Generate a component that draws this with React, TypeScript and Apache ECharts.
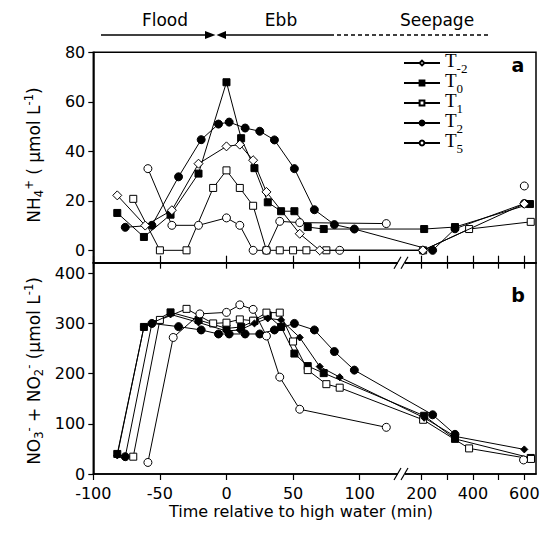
import React, { useEffect, useRef } from 'react';
import * as echarts from 'echarts';

// ---------- Data (time in minutes relative to high water) ----------
const SERIES_NAMES = ['T-2', 'T0', 'T1', 'T2', 'T5'];

// Panel a: NH4+ (umol L-1)
const tm2A_t = [-82, -61, -41, -21, 0, 10, 20, 30, 55, 70, 205, 600];
const tm2A_v = [22.2, 10, 16.2, 35, 42, 42.7, 36.4, 23.6, 6.7, 0, 0, 18.8];
const t0A_t = [-82, -62, -42, -21, 0, 11, 21, 31, 41, 51, 61, 73, 210, 330, 622];
const t0A_v = [15.1, 5.4, 14.4, 31, 67.9, 45.3, 33.2, 19.4, 15.8, 15.8, 9.4, 8.6, 8.6, 9.4, 18.7];
const t1A_t = [-70, -50, -30, -10, 0, 10, 20, 30, 40, 50, 60, 75, 206, 385, 625];
const t1A_v = [20.8, 0, 0, 25.2, 32.3, 25.2, 18, 0, 0, 0, 0, 0, 0, 8.6, 11.5];
const t2A_t = [-76, -56, -36, -19, -6, 2, 14, 25, 36, 51, 66, 81, 96, 243, 330, 600];
const t2A_v = [9.3, 10.1, 29.7, 44.7, 51, 51.8, 49.4, 48.1, 44.6, 33, 16.4, 10.4, 8.6, 0, 8.7, 18.9];
const t5A_t = [-59, -41, -21, 0, 10, 20, 30, 40, 55, 120];
const t5A_v = [33, 10.1, 10.1, 13.1, 10.1, 0, 0, 11.7, 11.2, 10.8];
const t5A2_t = [85, 205];
const t5A2_v = [0, 0];
const t5A3_t = [600];
const t5A3_v = [26];

// Panel b: NO3- + NO2- (umol L-1)
const tm2B_t = [-82, -62, -42, -21, 0, 10, 21, 31, 41, 55, 70, 85, 210, 330, 600];
const tm2B_v = [37, 293, 318, 302, 285, 287, 300, 310, 307, 272, 214, 193, 112, 75, 49];
const t0B_t = [-82, -62, -42, -21, 0, 11, 21, 31, 41, 51, 61, 73, 210, 330, 625];
const t0B_v = [40, 293, 322, 307, 290, 293, 305, 316, 293, 240, 215, 201, 116, 70, 32];
const t1B_t = [-70, -50, -30, -10, 0, 10, 20, 30, 40, 50, 61, 75, 85, 206, 385, 626];
const t1B_v = [34.5, 307, 329, 300, 301.5, 308, 305.5, 321.5, 321.5, 264, 207, 179, 172, 108, 51, 30];
const t2B_t = [-76, -56, -36, -19, -6, 2, 14, 25, 36, 51, 66, 81, 96, 243, 330];
const t2B_v = [34.5, 300, 293.6, 287, 279, 279, 279, 279, 287, 300, 287, 244, 207, 118, 79];
const t5B_t = [-59, -40, -20, 0, 10, 20, 30, 40, 55, 120];
const t5B_v = [23, 272, 319, 322, 337, 328, 275, 193, 129, 93];
const t5B2_t = [597];
const t5B2_v = [28];

// Axis ticks (real minutes)
const xTickMinutes = [-100, -50, 0, 50, 100, 200, 300, 400, 500, 600];
const xLabelMinutes = [-100, -50, 0, 50, 100, 200, 400, 600];
const yTicksA = [0, 20, 40, 60, 80];
const yTicksB = [0, 100, 200, 300, 400];

// ---------- Broken time axis ----------
const BREAK_START = 140;
const SEG2_ORIGIN = 146.5;
const SEG2_SCALE = 0.1928;
const toAxis = (t: number) => (t <= BREAK_START ? t : SEG2_ORIGIN + (t - 200) * SEG2_SCALE);
const fromAxis = (v: number) => (v <= BREAK_START ? v : 200 + (v - SEG2_ORIGIN) / SEG2_SCALE);

const pairs = (ts: number[], vs: number[]) => ts.map((t, i) => [toAxis(t), vs[i]]);

const FONT = 'DejaVu Sans';
const SERIF = 'Liberation Serif';

const GRID_LEFT = 93.3;
const GRID_W = 442.7;

function mkSeries(
  name: string,
  data: number[][],
  panel: 0 | 1,
  symbol: string,
  size: number,
  filled: boolean,
  z = 2
) {
  return {
    type: 'line',
    name,
    xAxisIndex: panel === 0 ? 0 : 2,
    yAxisIndex: panel,
    data,
    symbol,
    symbolSize: size,
    showAllSymbol: true,
    lineStyle: { color: '#000', width: 1 },
    itemStyle: { color: filled ? '#000' : '#fff', borderColor: '#000', borderWidth: 1 },
    emphasis: { disabled: true },
    silent: true,
    z,
  };
}

const subOf: Record<string, string> = { 'T-2': '-2', T0: '0', T1: '1', T2: '2', T5: '5' };

function buildOption() {
  const xTickVals = xTickMinutes.map(toAxis);
  const xLabelVals = xLabelMinutes.map(toAxis);
  const axisLineStyle = { show: true, onZero: false, lineStyle: { color: '#000', width: 1.5 } };
  const baseX = {
    type: 'value',
    min: -100,
    max: 232.4,
    axisLine: axisLineStyle,
    splitLine: { show: false },
  };
  const axisText = { color: '#000', fontFamily: FONT, fontSize: 16 };
  const titleRich = {
    n: { fontFamily: FONT, fontSize: 17, lineHeight: 22, color: '#000' },
    sub: { fontFamily: FONT, fontSize: 11.5, lineHeight: 22, verticalAlign: 'bottom', color: '#000' },
    sup: { fontFamily: FONT, fontSize: 11.5, lineHeight: 22, verticalAlign: 'top', color: '#000' },
  };

  const breakMark = (y: number) => [
    { type: 'rect', shape: { x: 398, y: y - 5, width: 7, height: 10 }, style: { fill: '#fff' }, z: 50 },
    { type: 'line', shape: { x1: 394, y1: y + 6, x2: 401, y2: y - 6 }, style: { stroke: '#000', lineWidth: 1.2 }, z: 51 },
    { type: 'line', shape: { x1: 401, y1: y + 6, x2: 408, y2: y - 6 }, style: { stroke: '#000', lineWidth: 1.2 }, z: 51 },
  ];

  return {
    animation: false,
    backgroundColor: '#fff',
    grid: [
      { left: GRID_LEFT, top: 52.3, width: GRID_W, height: 210.4, show: true, borderColor: '#000', borderWidth: 1.5 },
      { left: GRID_LEFT, top: 262.7, width: GRID_W, height: 211.3, show: true, borderColor: '#000', borderWidth: 1.5 },
    ],
    xAxis: [
      {
        ...baseX,
        gridIndex: 0,
        axisTick: { show: true, inside: true, length: 7, customValues: xTickVals, lineStyle: { color: '#000', width: 1.2 } },
        axisLabel: { show: false },
      },
      {
        ...baseX,
        gridIndex: 1,
        position: 'top',
        axisTick: { show: true, inside: true, length: 6, customValues: xTickVals, lineStyle: { color: '#000', width: 1.2 } },
        axisLabel: { show: false },
      },
      {
        ...baseX,
        gridIndex: 1,
        position: 'bottom',
        axisTick: { show: true, inside: false, length: 6, customValues: xTickVals, lineStyle: { color: '#000', width: 1.2 } },
        axisLabel: {
          ...axisText,
          margin: 11,
          customValues: xLabelVals,
          formatter: (v: number) => String(Math.round(fromAxis(v))),
        },
      },
    ],
    yAxis: [
      {
        type: 'value',
        gridIndex: 0,
        min: -5,
        max: 80,
        axisLine: axisLineStyle,
        axisTick: { show: true, length: 5, customValues: yTicksA, lineStyle: { color: '#000', width: 1.2 } },
        axisLabel: { ...axisText, margin: 8, customValues: yTicksA },
        splitLine: { show: false },
      },
      {
        type: 'value',
        gridIndex: 1,
        min: 0,
        max: 421,
        axisLine: axisLineStyle,
        axisTick: { show: true, length: 5, customValues: yTicksB, lineStyle: { color: '#000', width: 1.2 } },
        axisLabel: { ...axisText, margin: 8, customValues: yTicksB },
        splitLine: { show: false },
      },
    ],
    legend: {
      show: true,
      data: SERIES_NAMES,
      orient: 'vertical',
      left: 403,
      top: 51,
      itemWidth: 36,
      itemHeight: 6,
      itemGap: -4,
      padding: 0,
      selectedMode: false,
      formatter: (name: string) => `{t|T}{s|${subOf[name]}}`,
      textStyle: {
        color: '#000',
        rich: {
          t: { fontFamily: SERIF, fontSize: 19, lineHeight: 20, verticalAlign: 'top', color: '#000' },
          s: { fontFamily: SERIF, fontSize: 13, lineHeight: 24, verticalAlign: 'bottom', color: '#000' },
        },
      },
    },
    graphic: [
      { type: 'text', x: 165, y: 19.5, style: { text: 'Flood', fontFamily: FONT, fontSize: 17, fill: '#000', align: 'center', verticalAlign: 'middle' } },
      { type: 'text', x: 281, y: 19.5, style: { text: 'Ebb', fontFamily: FONT, fontSize: 17, fill: '#000', align: 'center', verticalAlign: 'middle' } },
      { type: 'text', x: 437, y: 19.5, style: { text: 'Seepage', fontFamily: FONT, fontSize: 17, fill: '#000', align: 'center', verticalAlign: 'middle' } },
      { type: 'line', shape: { x1: 101, y1: 35, x2: 207, y2: 35 }, style: { stroke: '#000', lineWidth: 1.3 } },
      { type: 'polygon', shape: { points: [[205, 31], [215.5, 35], [205, 39]] }, style: { fill: '#000' } },
      { type: 'polygon', shape: { points: [[226, 31], [216.5, 35], [226, 39]] }, style: { fill: '#000' } },
      { type: 'line', shape: { x1: 224, y1: 35, x2: 330, y2: 35 }, style: { stroke: '#000', lineWidth: 1.3 } },
      { type: 'line', shape: { x1: 330, y1: 35, x2: 488, y2: 35 }, style: { stroke: '#000', lineWidth: 1.3, lineDash: [4, 3] } },
      { type: 'text', x: 518, y: 65, style: { text: 'a', fontFamily: FONT, fontWeight: 'bold', fontSize: 19, fill: '#000', align: 'center', verticalAlign: 'middle' } },
      { type: 'text', x: 518, y: 295, style: { text: 'b', fontFamily: FONT, fontWeight: 'bold', fontSize: 19, fill: '#000', align: 'center', verticalAlign: 'middle' } },
      {
        type: 'text', x: 34, y: 155, rotation: Math.PI / 2,
        style: {
          text: '{n|NH}{sub|4}{sup|+}{n| ( \u03bcmol L}{sup|-1}{n|)}',
          rich: titleRich, align: 'center', verticalAlign: 'middle', fill: '#000',
        },
      },
      {
        type: 'text', x: 34, y: 371, rotation: Math.PI / 2,
        style: {
          text: '{n|NO}{sub|3}{sup|-}{n| + NO}{sub|2}{sup|-}{n| (\u03bcmol L}{sup|-1}{n|)}',
          rich: titleRich, align: 'center', verticalAlign: 'middle', fill: '#000',
        },
      },
      { type: 'text', x: 301, y: 511.5, style: { text: 'Time relative to high water (min)', fontFamily: FONT, fontSize: 16, fill: '#000', align: 'center', verticalAlign: 'middle' } },
      ...breakMark(262.7),
      ...breakMark(474),
    ],
    series: [
      mkSeries('T-2', pairs(tm2A_t, tm2A_v), 0, 'diamond', 9, false, 3),
      mkSeries('T0', pairs(t0A_t, t0A_v), 0, 'rect', 7, true),
      mkSeries('T1', pairs(t1A_t, t1A_v), 0, 'rect', 7, false),
      mkSeries('T2', pairs(t2A_t, t2A_v), 0, 'circle', 8, true),
      mkSeries('T5', pairs(t5A_t, t5A_v), 0, 'circle', 8, false),
      mkSeries('T5', pairs(t5A2_t, t5A2_v), 0, 'circle', 8, false),
      mkSeries('T5', pairs(t5A3_t, t5A3_v), 0, 'circle', 8, false),
      mkSeries('T-2', pairs(tm2B_t, tm2B_v), 1, 'diamond', 7, true, 3),
      mkSeries('T0', pairs(t0B_t, t0B_v), 1, 'rect', 7, true),
      mkSeries('T1', pairs(t1B_t, t1B_v), 1, 'rect', 7, false),
      mkSeries('T2', pairs(t2B_t, t2B_v), 1, 'circle', 8, true),
      mkSeries('T5', pairs(t5B_t, t5B_v), 1, 'circle', 8, false),
      mkSeries('T5', pairs(t5B2_t, t5B2_v), 1, 'circle', 8, false),
    ],
  };
}

export default function App() {
  const ref = useRef<HTMLDivElement>(null);
  useEffect(() => {
    if (!ref.current) return;
    const chart = echarts.init(ref.current, null, { renderer: 'svg' });
    chart.setOption(buildOption() as any);
    return () => chart.dispose();
  }, []);
  return <div ref={ref} style={{ position: 'absolute', left: 0, top: 0, width: 547, height: 534 }} />;
}
